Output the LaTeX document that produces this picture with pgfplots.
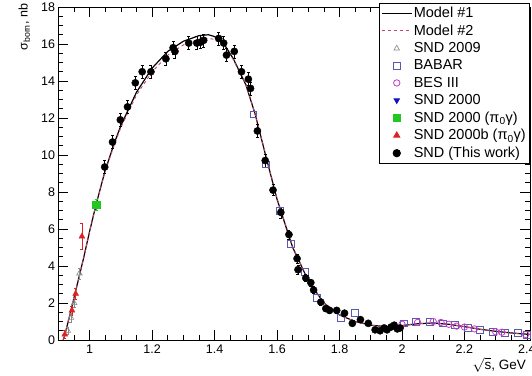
\documentclass[border=0pt]{standalone}
\usepackage{pgfplots}
\pgfplotsset{compat=1.18}
\usepackage{pgfplotstable}
\usepackage{fontspec}
\setmainfont{Liberation Sans}
\definecolor{modtwo}{HTML}{D04060}
\definecolor{sndnine}{HTML}{8A8A8A}
\definecolor{babar}{HTML}{5A5AB0}
\definecolor{bes}{HTML}{C838C8}
\definecolor{sndblue}{HTML}{1010C8}
\definecolor{sndgreen}{HTML}{22C822}
\definecolor{sndred}{HTML}{DD2222}
\pgfplotsset{longline/.style={legend image code/.code={\draw[##1] (-0.15cm,0cm) -- (0.9cm,0cm);}},
  markimg/.style={legend image code/.code={\draw[mark repeat=2,mark phase=2,##1] plot coordinates {(0.1cm,0cm) (0.37cm,0cm) (0.9cm,0cm)};}}}

\pgfplotstableread{
x y
0.915 0.0
0.92 0.25
0.94 1.6
0.96 3.0
0.98 4.4
1.00 5.9
1.02 7.3
1.05 9.2
1.08 10.7
1.10 11.6
1.15 13.4
1.20 14.7
1.25 15.6
1.30 16.15
1.35 16.45
1.38 16.5
1.40 16.4
1.43 16.0
1.46 15.2
1.50 13.8
1.53 12.2
1.56 10.2
1.60 7.6
1.65 5.0
1.70 3.2
1.75 2.0
1.80 1.35
1.85 1.0
1.90 0.8
1.95 0.72
2.00 0.78
2.05 0.88
2.10 0.92
2.15 0.85
2.20 0.72
2.25 0.58
2.30 0.47
2.35 0.38
2.41 0.30
}\modelone

\pgfplotstableread{
x y
0.915 0.0
0.92 0.25
0.94 1.6
0.96 3.0
0.98 4.4
1.00 5.9
1.02 7.3
1.05 9.15
1.08 10.6
1.10 11.5
1.15 13.25
1.20 14.5
1.25 15.4
1.30 15.95
1.35 16.25
1.38 16.3
1.40 16.25
1.43 15.9
1.46 15.15
1.50 13.8
1.53 12.2
1.56 10.25
1.60 7.65
1.65 5.05
1.70 3.2
1.75 2.0
1.80 1.35
1.85 1.0
1.90 0.8
1.95 0.72
2.00 0.78
2.05 0.88
2.10 0.92
2.15 0.85
2.20 0.72
2.25 0.58
2.30 0.47
2.35 0.38
2.41 0.30
}\modeltwo

\pgfplotstableread{
x y e
1.048 9.35 0.35
1.073 10.7 0.35
1.098 11.9 0.35
1.121 12.6 0.35
1.146 13.9 0.35
1.168 14.5 0.35
1.196 14.5 0.35
1.244 15.2 0.35
1.267 15.8 0.35
1.273 15.6 0.35
1.317 16.05 0.35
1.343 16.05 0.35
1.355 16.1 0.35
1.365 16.2 0.35
1.413 16.3 0.35
1.429 16.05 0.35
1.438 15.4 0.35
1.463 15.6 0.35
1.486 14.5 0.35
1.508 14.1 0.35
1.515 13.6 0.35
1.537 11.3 0.35
1.562 9.7 0.35
1.587 8.1 0.3
1.612 6.9 0.3
1.638 5.7 0.25
1.664 4.4 0.25
1.667 3.8 0.25
1.692 3.35 0.2
1.708 3.1 0.2
1.717 2.7 0.2
1.740 2.05 0.15
1.756 1.7 0.15
1.768 1.6 0.15
1.791 1.6 0.15
1.816 1.45 0.15
1.841 0.9 0.12
1.867 1.1 0.12
1.892 0.9 0.12
1.914 0.55 0.1
1.930 0.5 0.1
1.943 0.65 0.1
1.952 0.55 0.1
1.965 0.7 0.1
1.975 0.8 0.1
1.985 0.6 0.1
1.994 0.65 0.1
}\sndthis

\pgfplotstableread{
x y
1.524 12.2
1.565 9.5
1.609 7.0
1.645 5.2
1.688 3.7
1.727 2.3
1.803 1.2
1.848 1.45
2.006 0.9
2.045 0.97
2.090 1.0
2.130 0.9
2.170 0.8
2.210 0.65
2.250 0.55
2.290 0.45
2.330 0.4
2.370 0.4
2.400 0.3
}\babar

\pgfplotstableread{
x y
2.000 0.85
2.050 0.95
2.100 1.0
2.125 0.95
2.150 0.85
2.175 0.75
2.200 0.7
2.232 0.6
2.300 0.45
2.320 0.42
2.396 0.3
}\besiii

\pgfplotstableread{
x y e
0.930 0.5 0.2
0.940 1.2 0.25
0.950 2.0 0.25
0.967 3.6 0.3
}\sndnine

\pgfplotstableread{
x y e
0.920 0.3 0.2
0.943 1.6 0.25
0.955 2.5 0.3
0.975 5.6 0.7
}\sndtwob

\begin{document}
\begin{tikzpicture}
\begin{axis}[
  scale only axis,
  width=471.5pt, height=333pt,
  xmin=0.9, xmax=2.41, ymin=0, ymax=18,
  xtick={1,1.2,1.4,1.6,1.8,2,2.2,2.4},
  minor xtick={0.95,1.05,1.1,1.15,1.25,1.3,1.35,1.45,1.5,1.55,1.65,1.7,1.75,1.85,1.9,1.95,2.05,2.1,2.15,2.25,2.3,2.35},
  ytick={0,2,4,6,8,10,12,14,16,18},
  minor ytick={0.5,1,1.5,2.5,3,3.5,4.5,5,5.5,6.5,7,7.5,8.5,9,9.5,10.5,11,11.5,12.5,13,13.5,14.5,15,15.5,16.5,17,17.5},
  major tick length=10pt, minor tick length=5pt,
  tick style={black, line width=0.6pt},
  axis line style={line width=0.7pt},
  /pgf/number format/assume math mode=true,
  tick label style={font=\fontsize{12.5}{14}\selectfont},
  xticklabel style={yshift=-1pt},
  ylabel={σ\textsubscript{born}, nb},
  ylabel style={font=\fontsize{12.5}{14}\selectfont, at={(axis description cs:-0.06,1.01)}, anchor=south east, inner sep=0pt},
  xlabel={$\sqrt{\mbox{s}}$, GeV},
  xlabel style={font=\fontsize{13.5}{15}\selectfont, at={(axis description cs:1,0)}, anchor=north east, xshift=-4pt, yshift=-17pt, inner sep=0pt},
  legend style={at={(rel axis cs:1,1.012)}, anchor=north east, draw=black, line width=0.6pt, fill=white,
    font=\fontsize{14.5}{16}\selectfont, row sep=2.9pt, inner sep=2.5pt, nodes={inner sep=1.4pt}},
  legend cell align=left,
  legend image post style={line width=1pt},
  error bars/error bar style={line width=0.5pt},
  error bars/error mark options={rotate=90, mark size=1.5pt, line width=0.5pt},
]
\addplot[black, line width=1.2pt, no marks, longline] table[x=x,y=y] {\modelone};
\addlegendentry{Model \#1}
\addplot[modtwo, dashed, line width=0.9pt, no marks, longline] table[x=x,y=y] {\modeltwo};
\addlegendentry{Model \#2}
\addplot[sndnine, only marks, mark=triangle, mark size=3.2pt, mark options={line width=0.6pt}, markimg,
  error bars/.cd, y dir=both, y explicit] table[x=x,y=y,y error=e] {\sndnine};
\addlegendentry{SND 2009}
\addplot[babar, only marks, mark=square, mark size=3.4pt, mark options={line width=0.6pt}, markimg] table[x=x,y=y] {\babar};
\addlegendentry{BABAR}
\addplot[bes, only marks, mark=o, mark size=3.2pt, mark options={line width=0.8pt}, markimg] table[x=x,y=y] {\besiii};
\addlegendentry{BES III}
\addplot[sndblue, only marks, mark=triangle*, mark size=3pt, mark options={rotate=180}, markimg] coordinates {(1.019,7.2)};
\addlegendentry{SND 2000}
\addplot[sndgreen, only marks, mark=square*, mark size=3.6pt, markimg,
  error bars/.cd, y dir=both, y explicit] coordinates {(1.021,7.3) +- (0,0.3)};
\addlegendentry{SND 2000 (π\textsubscript{0}γ)}
\addplot[sndred, only marks, mark=triangle*, mark size=3.4pt, markimg,
  error bars/.cd, y dir=both, y explicit] table[x=x,y=y,y error=e] {\sndtwob};
\addlegendentry{SND 2000b (π\textsubscript{0}γ)}
\addplot[black, only marks, mark=*, mark size=3.6pt, markimg,
  error bars/.cd, y dir=both, y explicit] table[x=x,y=y,y error=e] {\sndthis};
\addlegendentry{SND (This work)}
\end{axis}
\pgfresetboundingbox
\useasboundingbox ([xshift=-58.5pt,yshift=-36pt]current axis.south west) rectangle ([xshift=2pt,yshift=7pt]current axis.north east);
\end{tikzpicture}
\end{document}
